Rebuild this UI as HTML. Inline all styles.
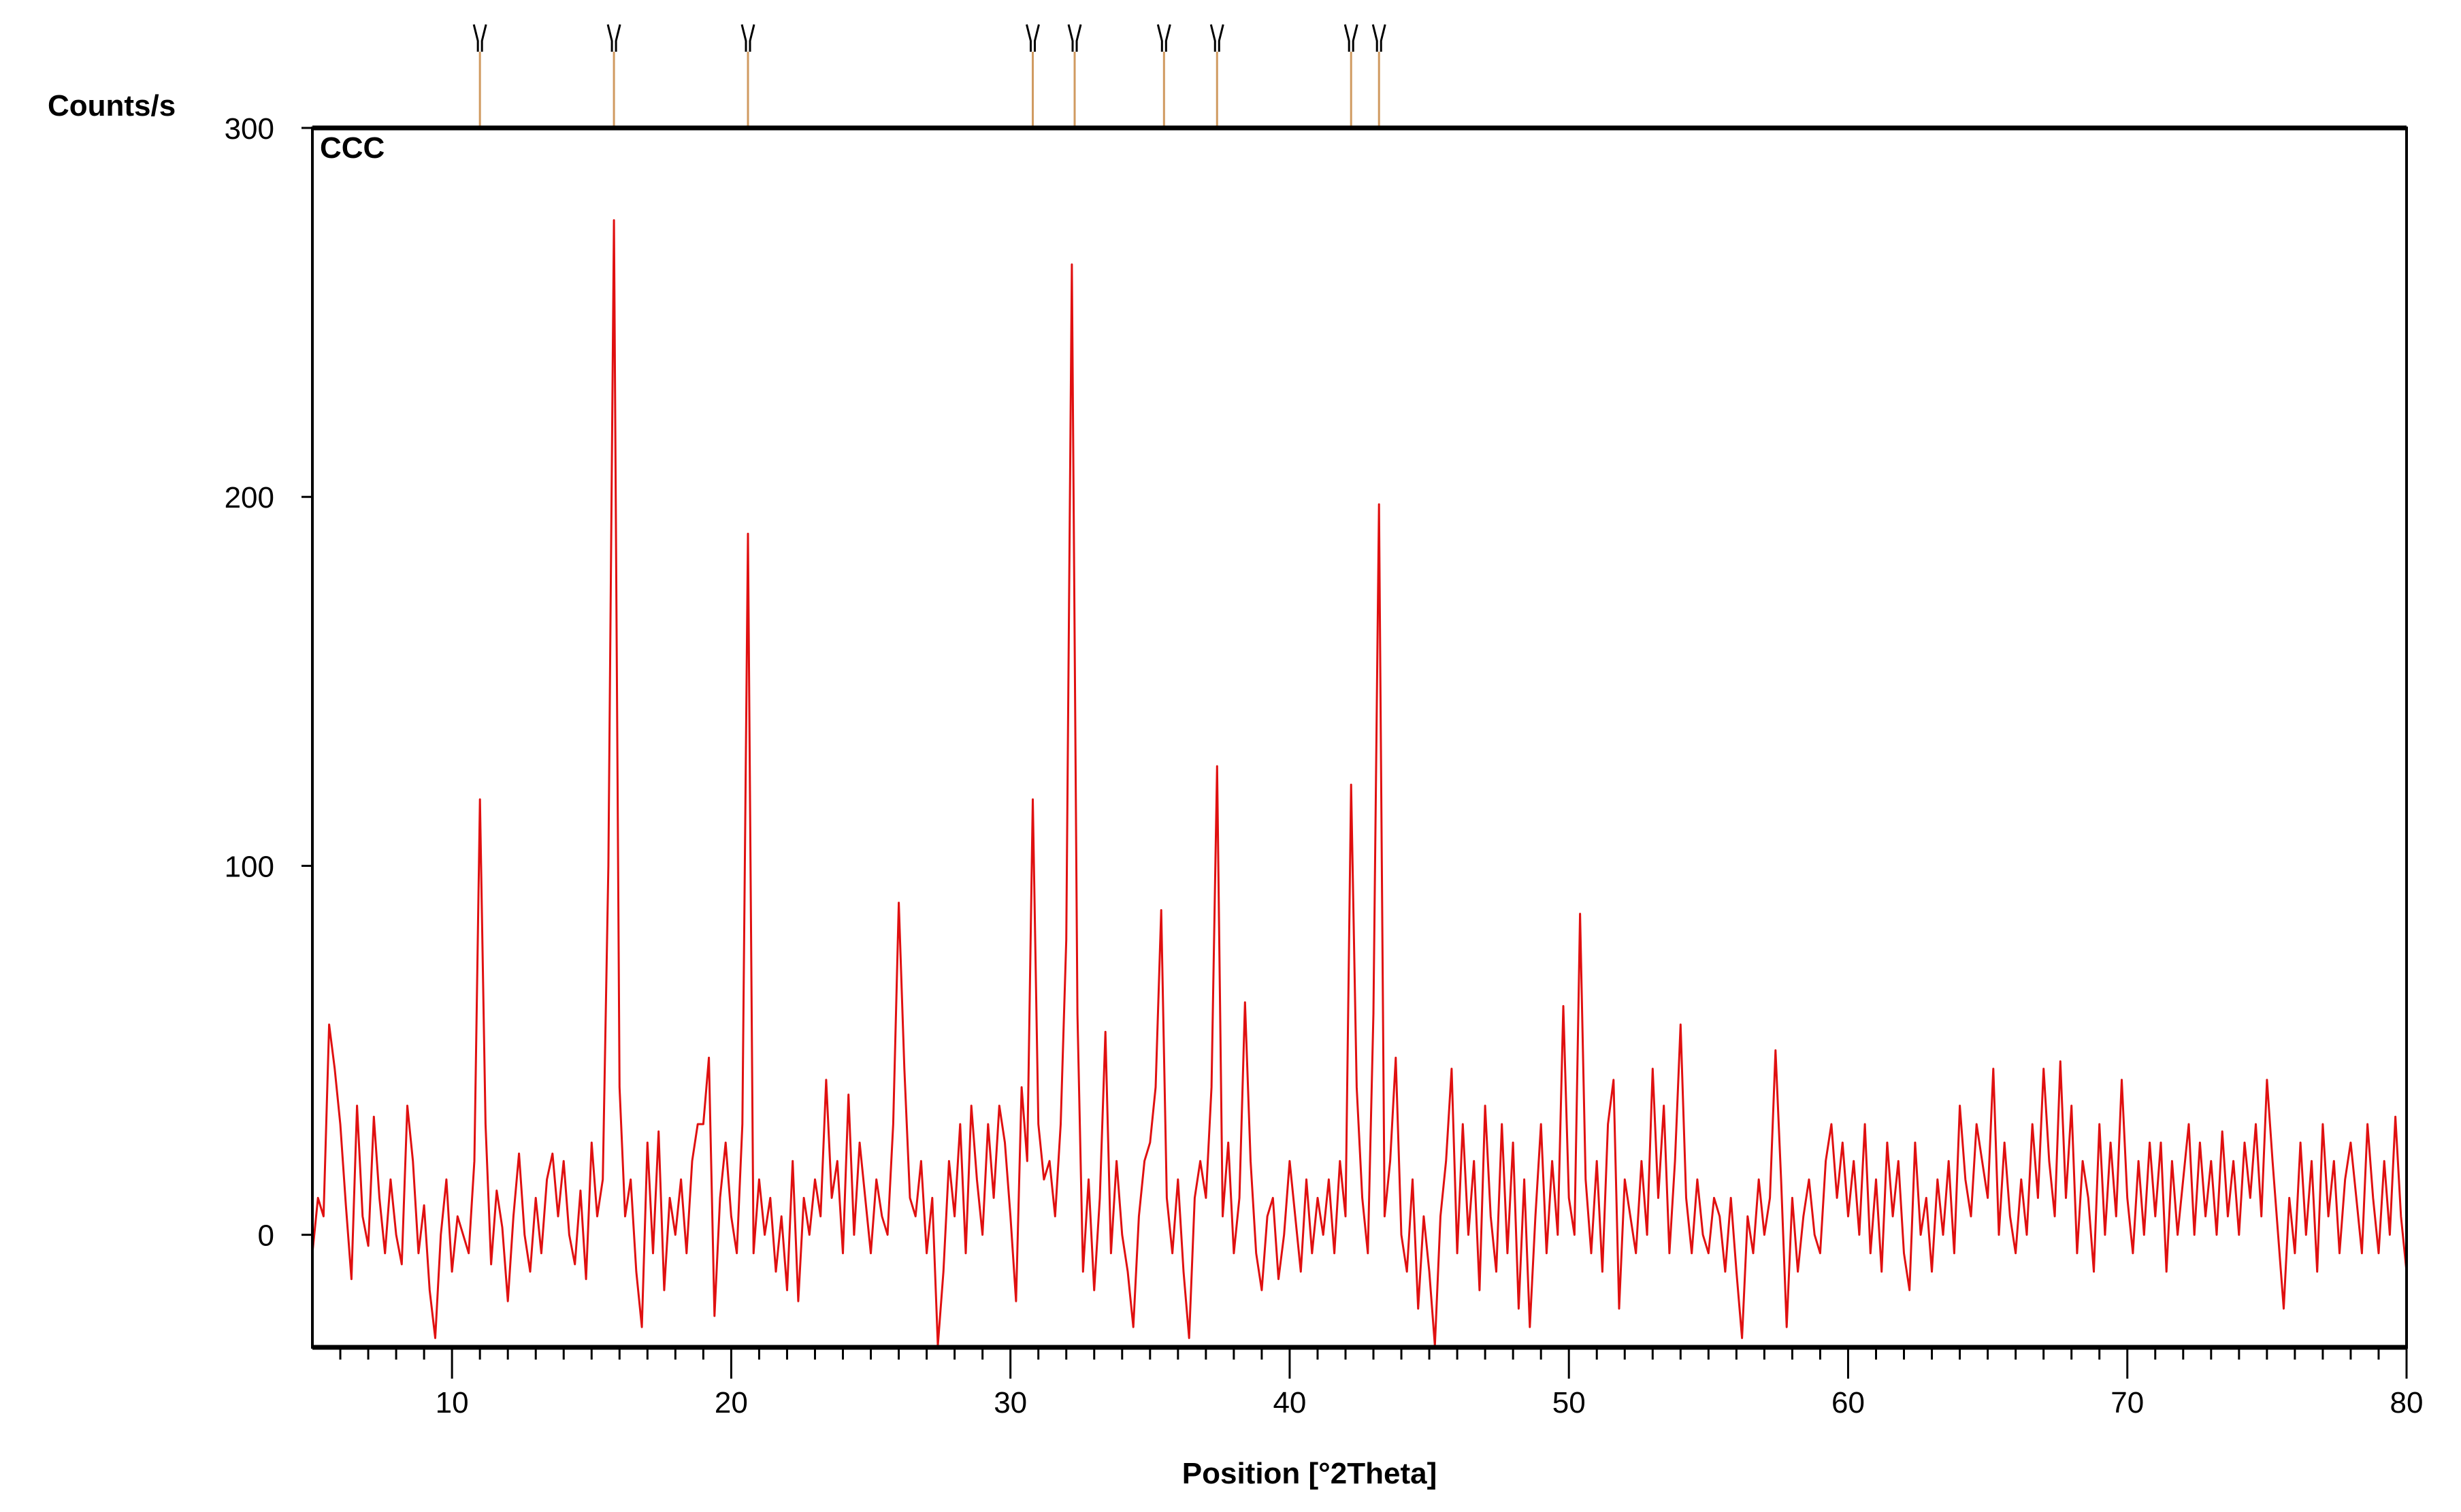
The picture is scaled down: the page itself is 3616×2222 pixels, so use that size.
<!DOCTYPE html>
<html><head><meta charset="utf-8"><style>
html,body{margin:0;padding:0;background:#fff;}
svg{display:block;font-family:"Liberation Sans",Arial,sans-serif;}
</style></head><body>
<svg id="chart" width="3616" height="2222" viewBox="0 0 3616 2222" xmlns="http://www.w3.org/2000/svg">
<rect x="0" y="0" width="3616" height="2222" fill="#fff"/>
<g id="markers"></g>
<g id="plot"></g>
<g id="axes"></g>
</svg>
<script>
const xStart = 5.0;
const xStep = 0.2;
const counts = [
-5,10,5,57,45, 30,8,-12,35,5, -3,32,10,-5,15, 0,-8,35,20,-5,
8,-15,-28,0,15, -10,5,0,-5,20, 118,30,-8,12,2, -18,5,22,0,-10,
10,-5,15,22,5, 20,0,-8,12,-12, 25,5,15,100,275, 40,5,15,-10,-25,
25,-5,28,-15,10, 0,15,-5,20,30, 30,48,-22,10,25, 5,-5,30,190,-5,
15,0,10,-10,5, -15,20,-18,10,0, 15,5,42,10,20, -5,38,0,25,10,
-5,15,5,0,30, 90,45,10,5,20, -5,10,-30,-10,20, 5,30,-5,35,15,
0,30,10,35,25, 5,-18,40,20,118, 30,15,20,5,30, 80,263,60,-10,15,
-15,10,55,-5,20, 0,-10,-25,5,20, 25,40,88,10,-5, 15,-10,-28,10,20,
10,40,127,5,25, -5,10,63,20,-5, -15,5,10,-12,0, 20,5,-10,15,-5,
10,0,15,-5,20, 5,122,40,10,-5, 60,198,5,20,48, 0,-10,15,-20,5,
-10,-30,5,20,45, -5,30,0,20,-15, 35,5,-10,30,-5, 25,-20,15,-25,5,
30,-5,20,0,62, 10,0,87,15,-5, 20,-10,30,42,-20, 15,5,-5,20,0,
45,10,35,-5,20, 57,10,-5,15,0, -5,10,5,-10,10, -10,-28,5,-5,15,
0,10,50,15,-25, 10,-10,5,15,0, -5,20,30,10,25, 5,20,0,30,-5,
15,-10,25,5,20, -5,-15,25,0,10, -10,15,0,20,-5, 35,15,5,30,20,
10,45,0,25,5, -5,15,0,30,10, 45,20,5,47,10, 35,-5,20,10,-10,
30,0,25,5,42, 10,-5,20,0,25, 5,25,-10,20,0, 15,30,0,25,5,
20,0,28,5,20, 0,25,10,30,5, 42,20,0,-20,10, -5,25,0,20,-10,
30,5,20,-5,15, 25,10,-5,30,10, -5,20,0,32,5, -10
];
const refPeaks = [11.0, 15.8, 20.6, 30.8, 32.3, 35.5, 37.4, 42.2, 43.2];
const xTicks = [10, 20, 30, 40, 50, 60, 70, 80];
const yTicks = [0, 100, 200, 300];

const X0 = 459, X1 = 3536, Y0 = 188, Y1 = 1980;
const xMin = 5, xMax = 80, yMin = -30.5, yMax = 300;
const sx = v => X0 + (v - xMin) / (xMax - xMin) * (X1 - X0);
const sy = v => Y1 - (v - yMin) / (yMax - yMin) * (Y1 - Y0);
const NS = "http://www.w3.org/2000/svg";
function mk(tag, attrs, parent){const e=document.createElementNS(NS,tag);for(const k in attrs)e.setAttribute(k,attrs[k]);parent.appendChild(e);return e;}

const plot = document.getElementById('plot');
const axes = document.getElementById('axes');
const markers = document.getElementById('markers');

const pts = counts.map((c,i)=>{const x=xStart+i*xStep;const y=Math.max(yMin,Math.min(yMax,c));return sx(x).toFixed(1)+','+sy(y).toFixed(1);}).join(' ');
const line = mk('polyline',{points:pts,fill:'none',stroke:'#e01010','stroke-width':3,'stroke-linejoin':'round'},plot);



const frame = mk('rect',{x:X0,y:Y0,width:X1-X0,height:Y1-Y0,fill:'none',stroke:'#000','stroke-width':4},axes);


mk('line',{x1:X0,y1:Y0,x2:X1,y2:Y0,stroke:'#000','stroke-width':7},axes);
mk('line',{x1:X0,y1:Y1,x2:X1,y2:Y1,stroke:'#000','stroke-width':7},axes);

for(let v=6; v<80; v++){
  if(v%10===0) continue;
  const t = mk('line',{x1:sx(v),y1:Y1,x2:sx(v),y2:Y1+18,stroke:'#000','stroke-width':3},axes);
  
  
}
xTicks.forEach(v=>{
  const t = mk('line',{x1:sx(v),y1:Y1,x2:sx(v),y2:Y1+46,stroke:'#000','stroke-width':3},axes);
  
  
  const lb = mk('text',{x:sx(v),y:Y1+96,'text-anchor':'middle','font-size':44,fill:'#000'},axes);
  lb.textContent = v;
  
  
});
yTicks.forEach(v=>{
  const t = mk('line',{x1:X0-16,y1:sy(v),x2:X0,y2:sy(v),stroke:'#000','stroke-width':3},axes);
  
  
  const lb = mk('text',{x:X0-56,y:sy(v)+16,'text-anchor':'end','font-size':44,fill:'#000'},axes);
  lb.textContent = v;
  
  
});

refPeaks.forEach(p=>{
  const x = sx(p);
  const g = mk('g',{},markers);
  
  
  mk('line',{x1:x,y1:76,x2:x,y2:Y0,stroke:'#d09a60','stroke-width':3},g);
  mk('path',{d:`M${x-9},36 L${x-3},60 L${x-3},76 M${x+9},36 L${x+3},60 L${x+3},76`,stroke:'#000','stroke-width':3,fill:'none'},g);
});

const yt = mk('text',{x:70,y:170,'font-size':44,'font-weight':'bold',fill:'#000'},axes);
yt.textContent = 'Counts/s';


const xt = mk('text',{x:1924,y:2180,'text-anchor':'middle','font-size':44,'font-weight':'bold',fill:'#000'},axes);
xt.textContent = 'Position [°2Theta]';


const st = mk('text',{x:470,y:232,'font-size':44,'font-weight':'bold',fill:'#000'},axes);
st.textContent = 'CCC';


</script>
</body></html>
